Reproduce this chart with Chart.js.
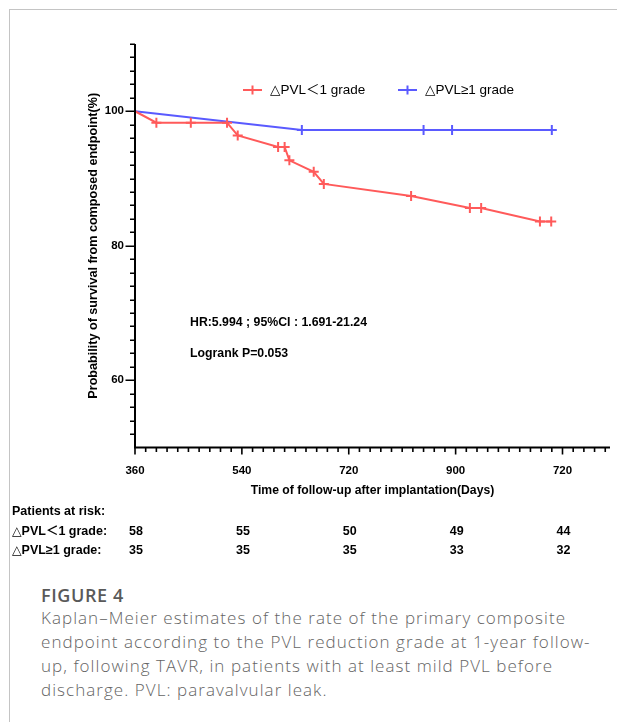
<!DOCTYPE html>
<html>
<head>
<meta charset="utf-8">
<script src="https://cdn.jsdelivr.net/npm/chart.js@4.4.1/dist/chart.umd.min.js"></script>
<style>
  html, body { margin: 0; padding: 0; background: #fff; overflow: hidden; }
  body { width: 617px; height: 722px; position: relative; }
  .frame { position: absolute; left: 9px; top: 9px; right: 0; bottom: 0; border-left: 1px solid #c4c4c4; border-top: 1px solid #c4c4c4; }
  #kmChart { position: absolute; left: 0; top: 0; }
  .caption { position: absolute; left: 41px; top: 584px; font-family: "Open Sans", sans-serif; white-space: nowrap; }
  .caption-title { font-size: 18px; font-weight: 600; letter-spacing: 0.6px; line-height: 22px; color: #595959; }
  .caption-text { font-size: 17px; font-weight: 300; letter-spacing: 1.05px; line-height: 24px; color: #646464; }
</style>
</head>
<body>
<div class="frame"></div>
<canvas id="kmChart" width="617" height="565"></canvas>
<div class="caption">
  <div class="caption-title">FIGURE 4</div>
  <div class="caption-text">Kaplan–Meier estimates of the rate of the primary composite<br>endpoint according to the PVL reduction grade at 1-year follow-<br>up, following TAVR, in patients with at least mild PVL before<br>discharge. PVL: paravalvular leak.</div>
</div>
<script>
const groupLabels = ["△PVL＜1 grade", "△PVL≥1 grade"];

const redDays = [360, 396, 454, 515, 533, 601, 612, 620, 661, 678, 825, 924, 943, 1042, 1061];
const redSurvival = [100, 98.3, 98.3, 98.3, 96.4, 94.7, 94.7, 92.7, 91.0, 89.2, 87.4, 85.6, 85.6, 83.6, 83.6];
const redCensored = [false, true, true, true, true, true, true, true, true, true, true, true, true, true, true];

const blueDays = [360, 641, 846, 894, 1062];
const blueSurvival = [100, 97.2, 97.2, 97.2, 97.2];
const blueCensored = [false, true, true, true, true];

const xMajorTicks = [360, 540, 720, 900, 1080];
const xMajorLabels = ["360", "540", "720", "900", "720"];
const yMajorTicks = [60, 80, 100];
const yMajorLabels = ["60", "80", "100"];

const riskDays = [360, 540, 720, 900, 1080];
const riskRed = [58, 55, 50, 49, 44];
const riskBlue = [35, 35, 35, 33, 32];

const statLines = ["HR:5.994 ; 95%CI : 1.691-21.24", "Logrank P=0.053"];

const RED = "#ff5a5a";
const BLUE = "#5a5aff";
const FONT = "'Liberation Sans', Arial, 'DejaVu Sans', 'Noto Sans CJK SC', sans-serif";

function toPoints(days, values) {
  return days.map((day, i) => ({ x: day, y: values[i] }));
}

function stepTicks(from, to, step) {
  const ticks = [];
  for (let v = from; v <= to; v += step) ticks.push({ value: v });
  return ticks;
}

const axisPainter = {
  id: "axisPainter",
  afterDatasetsDraw(chart) {
    const { ctx, chartArea, scales } = chart;
    const { x, y } = scales;
    ctx.save();
    ctx.strokeStyle = "#000";
    ctx.lineWidth = 2;
    ctx.beginPath();
    ctx.moveTo(chartArea.left, chartArea.top);
    ctx.lineTo(chartArea.left, chartArea.bottom);
    ctx.moveTo(chartArea.left - 1, chartArea.bottom);
    ctx.lineTo(chartArea.right, chartArea.bottom);
    ctx.stroke();

    ctx.lineWidth = 1.6;
    ctx.beginPath();
    y.ticks.forEach((tick) => {
      if (tick.value === y.min) return;
      const py = Math.round(y.getPixelForValue(tick.value)) + 0.2;
      const len = yMajorTicks.includes(tick.value) ? 9.5 : 5;
      ctx.moveTo(chartArea.left, py);
      ctx.lineTo(chartArea.left - len, py);
    });
    x.ticks.forEach((tick) => {
      const px = x.getPixelForValue(tick.value);
      const len = xMajorTicks.includes(tick.value) ? 7 : 4.5;
      ctx.moveTo(px, chartArea.bottom);
      ctx.lineTo(px, chartArea.bottom + len);
    });
    ctx.stroke();
    ctx.restore();
  },
  afterDraw(chart) {
    const { ctx, scales } = chart;
    const { x } = scales;
    const colors = [RED, BLUE];
    const legendX = [243, 398];
    ctx.save();

    // legend
    ctx.font = `13.5px ${FONT}`;
    ctx.textBaseline = "middle";
    ctx.textAlign = "left";
    ctx.fillStyle = "#000";
    groupLabels.forEach((label, i) => {
      const lx = legendX[i];
      ctx.strokeStyle = colors[i];
      ctx.lineWidth = 2;
      ctx.beginPath();
      ctx.moveTo(lx, 90);
      ctx.lineTo(lx + 19, 90);
      ctx.moveTo(lx + 9.5, 85.5);
      ctx.lineTo(lx + 9.5, 94.5);
      ctx.stroke();
      ctx.fillText(label, lx + 27, 90);
    });

    // statistics
    ctx.font = `bold 12.3px ${FONT}`;
    ctx.fillText(statLines[0], 190, 323);
    ctx.fillText(statLines[1], 190, 354);

    // number at risk table
    ctx.font = `bold 12.5px ${FONT}`;
    ctx.fillText("Patients at risk:", 12, 512);
    ctx.fillText(groupLabels[0] + ":", 12, 531.5);
    ctx.fillText(groupLabels[1] + ":", 12, 551);
    ctx.textAlign = "center";
    riskDays.forEach((day, i) => {
      const px = x.getPixelForValue(day) + 1;
      ctx.fillText(String(riskRed[i]), px, 531.5);
      ctx.fillText(String(riskBlue[i]), px, 551);
    });
    ctx.restore();
  }
};

new Chart(document.getElementById("kmChart"), {
  type: "line",
  data: {
    datasets: [
      {
        label: groupLabels[0],
        data: toPoints(redDays, redSurvival),
        borderColor: RED,
        borderWidth: 2,
        tension: 0,
        pointStyle: "cross",
        pointRadius: redCensored.map((c) => (c ? 5 : 0)),
        pointBorderColor: RED,
        pointBorderWidth: 2,
        clip: false
      },
      {
        label: groupLabels[1],
        data: toPoints(blueDays, blueSurvival),
        borderColor: BLUE,
        borderWidth: 2,
        tension: 0,
        pointStyle: "cross",
        pointRadius: blueCensored.map((c) => (c ? 5 : 0)),
        pointBorderColor: BLUE,
        pointBorderWidth: 2,
        clip: false
      }
    ]
  },
  options: {
    responsive: false,
    animation: false,
    devicePixelRatio: 1,
    events: [],
    layout: { padding: { left: 82, top: 44, right: 0, bottom: 63 } },
    plugins: { legend: { display: false }, tooltip: { enabled: false } },
    scales: {
      x: {
        type: "linear",
        min: 360,
        max: 1160,
        afterBuildTicks: (scale) => { scale.ticks = stepTicks(360, 1160, 18); },
        afterFit: (scale) => { scale.height = 54.5; },
        ticks: {
          autoSkip: false,
          maxRotation: 0,
          padding: 7,
          color: "#000",
          font: { family: FONT, size: 11.5, weight: "bold" },
          callback: (value) => {
            const i = xMajorTicks.indexOf(value);
            return i >= 0 ? xMajorLabels[i] : "";
          }
        },
        grid: { display: false, drawTicks: true, tickLength: 9 },
        border: { display: false },
        title: {
          display: true,
          text: "Time of follow-up after implantation(Days)",
          color: "#000",
          font: { family: FONT, size: 12.2, weight: "bold" },
          padding: { top: 4, bottom: 4 }
        }
      },
      y: {
        min: 50,
        max: 110,
        afterBuildTicks: (scale) => { scale.ticks = stepTicks(50, 110, 2); },
        afterFit: (scale) => { scale.width = 53; },
        ticks: {
          autoSkip: false,
          padding: 1,
          color: "#000",
          font: { family: FONT, size: 11.5, weight: "bold" },
          callback: (value) => {
            const i = yMajorTicks.indexOf(value);
            return i >= 0 ? yMajorLabels[i] : "";
          }
        },
        grid: { display: false, drawTicks: true, tickLength: 10 },
        border: { display: false },
        title: {
          display: true,
          text: "Probability of survival from composed endpoint(%)",
          color: "#000",
          font: { family: FONT, size: 12.6, weight: "bold" },
          padding: { top: 4, bottom: 4 }
        }
      }
    }
  },
  plugins: [axisPainter]
});
</script>
</body>
</html>
